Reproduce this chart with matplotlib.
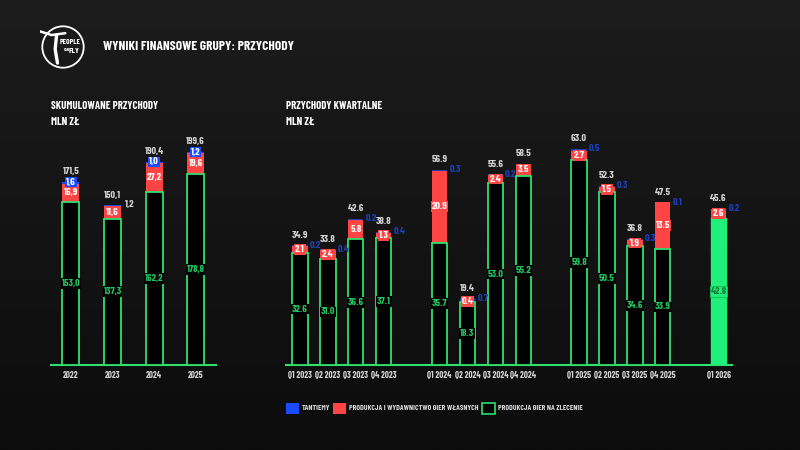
import matplotlib
matplotlib.use("Agg")
import numpy as np
import matplotlib.pyplot as plt
from matplotlib.patches import Rectangle, Circle
from matplotlib import font_manager

# ---------------- data ----------------
years = ["2022", "2023", "2024", "2025"]
cum_contract = [153.0, 137.3, 162.2, 178.8]
cum_own = [16.9, 11.6, 27.2, 19.6]
cum_royalty = [1.6, 1.2, 1.0, 1.2]
cum_total = [171.5, 150.1, 190.4, 199.6]

quarters = ["Q1 2023", "Q2 2023", "Q3 2023", "Q4 2023",
            "Q1 2024", "Q2 2024", "Q3 2024", "Q4 2024",
            "Q1 2025", "Q2 2025", "Q3 2025", "Q4 2025",
            "Q1 2026"]
q_slots = [0, 1, 2, 3, 5, 6, 7, 8, 10, 11, 12, 13, 15]
q_contract = [32.6, 31.0, 36.6, 37.1, 35.7, 18.3, 53.0, 55.2, 59.8, 50.5, 34.6, 33.9, 42.8]
q_own = [2.1, 2.4, 5.8, 1.3, 20.9, 0.4, 2.4, 3.5, 2.7, 1.5, 1.9, 13.5, 2.6]
q_royalty = [0.2, 0.4, 0.2, 0.4, 0.3, 0.7, 0.2, None, 0.5, 0.3, 0.3, 0.1, 0.2]
q_total = [34.9, 33.8, 42.6, 38.8, 56.9, 19.4, 55.6, 58.5, 63.0, 52.3, 36.8, 47.5, 45.6]

legend_labels = ["TANTIEMY", "PRODUKCJA I WYDAWNICTWO GIER WŁASNYCH", "PRODUKCJA GIER NA ZLECENIE"]

# ---------------- style ----------------
BG = "#141414"
GREEN = "#2ee06f"
GREEN_FILL = "#1ef07a"
GREEN_TXT = "#22c760"
RED = "#ff4444"
BLUE = "#1a4cff"
BLUE_TXT = "#1c3fb8"
GREY = "#d2d2d2"

fl = font_manager.fontManager.ttflist
def has_bold(name):
    return any(f.name == name and f.weight in (600, 700, 800, "bold", "semibold") and "[" not in f.fname
               for f in fl)
names = {f.name for f in fl}
chosen = None
for c in ["Oswald", "Barlow Condensed", "Roboto Condensed", "Archivo Narrow", "PT Sans Narrow",
          "Liberation Sans Narrow"]:
    if c in names and has_bold(c):
        chosen = c
        break
if chosen is None:
    for c in ["Bebas Neue", "Fjalla One", "Anton", "Oswald"]:
        if c in names:
            chosen = c
            break
FAM = ([chosen] if chosen else []) + ["DejaVu Sans"]
plt.rcParams["font.family"] = FAM
plt.rcParams["font.weight"] = "bold"
S = 1.0 if chosen else 0.75

fig = plt.figure(figsize=(8, 4.5), dpi=100, facecolor=BG)

axBg = fig.add_axes([0, 0, 1, 1], zorder=-10)
grad = np.linspace(0, 1, 256).reshape(-1, 1)
axBg.imshow(grad, aspect="auto", cmap=matplotlib.colors.LinearSegmentedColormap.from_list(
    "bg", ["#1c1c1c", "#141414", "#0c0c0c"]), extent=[0, 1, 0, 1])
axBg.axis("off")

def px(x0, y_base, x1, y_top):
    return [x0 / 800, 1 - y_base / 450, (x1 - x0) / 800, (y_base - y_top) / 450]

def fmt_pl(v):
    return f"{v:.1f}".replace(".", ",")

def fmt_en(v):
    return f"{v:.1f}"

FS_VAL = 7.4 * S
FS_TICK = 6.4 * S

def style_axes(ax, labels, positions):
    ax.set_facecolor("none")
    for s in ["top", "right", "left"]:
        ax.spines[s].set_visible(False)
    ax.spines["bottom"].set_color(GREEN)
    ax.spines["bottom"].set_linewidth(1.5)
    ax.set_yticks([])
    ax.set_xticks(positions)
    ax.set_xticklabels(labels, color=GREY, fontsize=FS_TICK, fontweight="bold")
    ax.tick_params(axis="x", length=0, pad=4)

# ---------------- left chart ----------------
axL = fig.add_axes(px(51, 365, 216, 140))
xL = list(range(len(years)))
wL = 0.41
axL.bar(xL, cum_contract, width=wL, facecolor="black", edgecolor=GREEN, linewidth=1.3, zorder=3)
axL.bar(xL, cum_own, width=wL, bottom=cum_contract, facecolor=RED, edgecolor="none", zorder=2)
bot_r = [a + b for a, b in zip(cum_contract, cum_own)]
axL.bar(xL, cum_royalty, width=wL, bottom=bot_r, facecolor=BLUE, edgecolor="none", zorder=2)
axL.set_xlim(-0.48, 3.49)
axL.set_ylim(0, 211)
style_axes(axL, years, xL)

for i in xL:
    g, r, b, t = cum_contract[i], cum_own[i], cum_royalty[i], cum_total[i]
    axL.text(i, g / 2, fmt_pl(g), ha="center", va="center", color=GREEN_TXT, fontsize=FS_VAL,
             bbox=dict(facecolor="black", edgecolor="none", pad=0.6), zorder=5)
    axL.text(i, g + r / 2, fmt_pl(r), ha="center", va="center", color="white", fontsize=FS_VAL,
             bbox=dict(facecolor=RED, edgecolor="none", pad=0.6), zorder=5)
    if i == 1:
        axL.text(i + wL / 2 + 0.1, t, fmt_pl(b), ha="left", va="center", color=GREY, fontsize=FS_VAL, zorder=5)
        axL.text(i, t + 9, fmt_pl(t), ha="center", va="center", color=GREY, fontsize=FS_VAL, zorder=5)
    else:
        axL.text(i, t, fmt_pl(b), ha="center", va="center", color="white", fontsize=FS_VAL,
                 bbox=dict(facecolor=BLUE, edgecolor="none", pad=0.6), zorder=5)
        axL.text(i, t + 10, fmt_pl(t), ha="center", va="center", color=GREY, fontsize=FS_VAL, zorder=5)

# ---------------- right chart ----------------
axR = fig.add_axes(px(286, 365, 732, 140))
wR = 0.55
n = len(quarters)
last = n - 1
for k in range(n):
    x = q_slots[k]
    g, r, b, t = q_contract[k], q_own[k], q_royalty[k], q_total[k]
    if k == last:
        axR.bar(x, g, width=wR, facecolor=GREEN_FILL, edgecolor=GREEN_FILL, linewidth=1.0, zorder=3)
    else:
        axR.bar(x, g, width=wR, facecolor="black", edgecolor=GREEN, linewidth=1.3, zorder=3)
    axR.bar(x, r, width=wR, bottom=g, facecolor=RED, edgecolor="none", zorder=2)
    if b is not None:
        axR.bar(x, b, width=wR, bottom=g + r, facecolor=BLUE_TXT, edgecolor="none", zorder=2)
    top = g + r + (b or 0)
    if k == last:
        axR.text(x, g / 2, fmt_en(g), ha="center", va="center", color="#0f7a3a", fontsize=FS_VAL,
                 bbox=dict(facecolor=GREEN_FILL, edgecolor="#0fbf55", linewidth=0.6, pad=0.6), zorder=5)
    else:
        axR.text(x, g / 2, fmt_en(g), ha="center", va="center", color=GREEN_TXT, fontsize=FS_VAL,
                 bbox=dict(facecolor="black", edgecolor="none", pad=0.6), zorder=5)
    axR.text(x, g + r / 2, fmt_en(r), ha="center", va="center", color="white", fontsize=FS_VAL,
             bbox=dict(facecolor=RED, edgecolor="none", pad=0.6), zorder=5)
    if b is not None:
        axR.text(x + wR / 2 + 0.08, top, fmt_en(b), ha="left", va="center", color=BLUE_TXT,
                 fontsize=FS_VAL, zorder=5)
    axR.text(x, top + 2.9, fmt_en(t), ha="center", va="center", color=GREY, fontsize=FS_VAL, zorder=5)

axR.set_xlim(-0.5, 15.48)
axR.set_ylim(0, 65.6)
style_axes(axR, quarters, q_slots)

# ---------------- titles ----------------
fig.text(103 / 800, 1 - 47 / 450, "WYNIKI FINANSOWE GRUPY: PRZYCHODY", color="white",
         fontsize=9.6 * S, fontweight="bold", va="center", ha="left")
for tx, t1, t2 in [(51, "SKUMULOWANE PRZYCHODY", "MLN ZŁ"), (286, "PRZYCHODY KWARTALNE", "MLN ZŁ")]:
    fig.text(tx / 800, 1 - 106 / 450, t1, color="white", fontsize=7.8 * S, fontweight="bold", va="center")
    fig.text(tx / 800, 1 - 122 / 450, t2, color="white", fontsize=7.8 * S, fontweight="bold", va="center")

# logo
axLogo = fig.add_axes([40 / 800, 1 - 70 / 450, 46 / 800, 46 / 450])
axLogo.set_xlim(0, 1)
axLogo.set_ylim(0, 1)
axLogo.set_aspect("equal")
axLogo.axis("off")
axLogo.add_patch(Circle((0.5, 0.5), 0.45, facecolor="none", edgecolor="white", linewidth=1.3))
axLogo.text(0.66, 0.6, "PEOPLE", color="white", fontsize=5.5, ha="center", va="center", fontweight="bold")
axLogo.text(0.58, 0.44, "CAN", color="white", fontsize=3, ha="center", va="center", fontweight="bold")
axLogo.text(0.74, 0.42, "FLY", color="white", fontsize=6, ha="center", va="center", fontweight="bold")
axLogo.plot([0.0, 0.25, 0.55], [0.84, 0.76, 0.8], color="white", linewidth=1.8, solid_capstyle="round")
axLogo.plot([0.36, 0.33, 0.38], [0.76, 0.45, 0.15], color="white", linewidth=2.4, solid_capstyle="round")

# ---------------- legend ----------------
axLeg = fig.add_axes([0, 0, 1, 1], facecolor="none")
axLeg.set_xlim(0, 800)
axLeg.set_ylim(450, 0)
axLeg.axis("off")
leg_styles = [dict(facecolor=BLUE, edgecolor="none"),
              dict(facecolor=RED, edgecolor="none"),
              dict(facecolor="black", edgecolor=GREEN, linewidth=1.2)]
leg_x = [286, 333, 482]
for lx, lab, st in zip(leg_x, legend_labels, leg_styles):
    axLeg.add_patch(Rectangle((lx, 402.5), 13, 11, **st))
    axLeg.text(lx + 16, 408, lab, color=GREY, fontsize=5.6 * S, va="center", ha="left", fontweight="bold")

fig.savefig("out.png", dpi=100, facecolor=BG)
